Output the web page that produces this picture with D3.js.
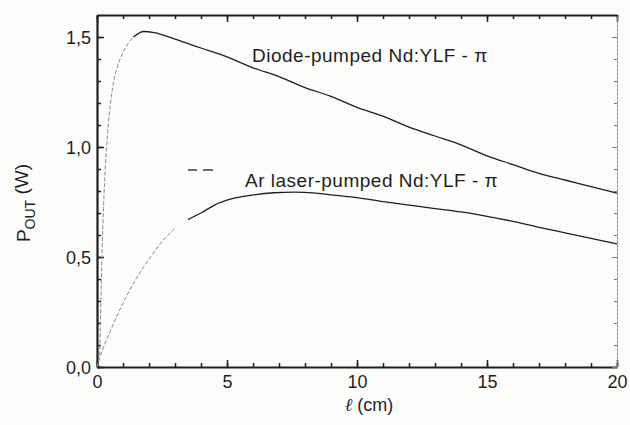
<!DOCTYPE html>
<html>
<head>
<meta charset="utf-8">
<script src="https://cdn.jsdelivr.net/npm/d3@7"></script>
<style>
  html, body { margin: 0; padding: 0; background: #fcfcfa; }
  svg { display: block; font-family: "Liberation Sans", Arial, sans-serif; }
</style>
</head>
<body>
<svg id="chart" width="630" height="425"></svg>
<script>
// Diode-pumped Nd:YLF - pi : output power vs crystal length
const diodeL = [0, 0.1, 0.15, 0.2, 0.25, 0.3, 0.42, 0.6, 0.8, 1.0, 1.4, 1.8, 2.2, 3, 4, 5, 6, 7, 8, 9, 10, 11, 12, 13, 14, 15, 16, 17, 18, 19, 20];
const diodeP = [0, 0.06, 0.3, 0.55, 0.72, 0.86, 1.08, 1.27, 1.37, 1.43, 1.50, 1.525, 1.52, 1.49, 1.45, 1.41, 1.36, 1.32, 1.27, 1.23, 1.18, 1.14, 1.09, 1.05, 1.01, 0.96, 0.92, 0.88, 0.85, 0.82, 0.79];

// Ar laser-pumped Nd:YLF - pi
const arL = [0, 0.1, 0.5, 1.0, 1.5, 2.0, 2.5, 3.0, 3.5, 4.0, 4.5, 5.2, 6.0, 6.8, 7.6, 8.4, 9.2, 10, 11, 12, 13, 14, 15, 16, 17, 18, 19, 20];
const arP = [0, 0.04, 0.16, 0.29, 0.40, 0.49, 0.57, 0.63, 0.67, 0.70, 0.735, 0.765, 0.782, 0.792, 0.795, 0.79, 0.78, 0.77, 0.752, 0.736, 0.72, 0.705, 0.685, 0.662, 0.635, 0.61, 0.585, 0.56];

const xMajor = [0, 5, 10, 15, 20];
const yMajor = [0, 0.5, 1.0, 1.5];

// the steep start of each curve is printed faint in the scan
const diodeSolidFrom = 1.4;
const arSolidFrom = 3.3;

const svg = d3.select('#chart');
const ink = '#1f1f1f';

const x = d3.scaleLinear().domain([0, 20]).range([97, 617]);
const y = d3.scaleLinear().domain([0, 1.6]).range([367, 15]);

const fmt = d => d3.format('.1f')(d).replace('.', ',');

// minor ticks
svg.append('g')
  .attr('transform', `translate(0,${y(0)})`)
  .call(d3.axisBottom(x).tickValues(d3.range(0, 21, 1)).tickSize(-4).tickFormat(''))
  .call(g => g.select('.domain').remove());
svg.append('g')
  .attr('transform', `translate(0,${y(1.6)})`)
  .call(d3.axisTop(x).tickValues(d3.range(0, 21, 1)).tickSize(-4).tickFormat(''))
  .call(g => g.select('.domain').remove());
svg.append('g')
  .attr('transform', `translate(${x(0)},0)`)
  .call(d3.axisLeft(y).tickValues(d3.range(0, 16).map(i => i / 10)).tickSize(-4).tickFormat(''))
  .call(g => g.select('.domain').remove());
svg.append('g')
  .attr('transform', `translate(${x(20)},0)`)
  .call(d3.axisRight(y).tickValues(d3.range(0, 16).map(i => i / 10)).tickSize(-3).tickFormat(''))
  .call(g => g.select('.domain').remove())
  .selectAll('line').attr('stroke', '#777');

// major axes
const xAxis = svg.append('g')
  .attr('transform', `translate(0,${y(0)})`)
  .call(d3.axisBottom(x).tickValues(xMajor).tickSize(-7).tickSizeOuter(0).tickPadding(8).tickFormat(d => d));
const yAxis = svg.append('g')
  .attr('transform', `translate(${x(0)},0)`)
  .call(d3.axisLeft(y).tickValues(yMajor).tickSize(-7).tickSizeOuter(0).tickPadding(6).tickFormat(fmt));
svg.append('g')
  .attr('transform', `translate(0,${y(1.6)})`)
  .call(d3.axisTop(x).tickValues(xMajor).tickSize(-7).tickSizeOuter(0).tickFormat(''));
svg.append('g')
  .attr('transform', `translate(${x(20)},0)`)
  .call(d3.axisRight(y).tickValues(yMajor).tickSize(-5).tickSizeOuter(0).tickFormat(''))
  .call(g => g.select('.domain').attr('stroke', '#888').attr('stroke-width', 1).attr('stroke-dasharray', '3,1'))
  .selectAll('line').attr('stroke', '#777');

svg.selectAll('.tick line').filter(function () { return !this.getAttribute('stroke') || this.getAttribute('stroke') === 'currentColor'; })
  .attr('stroke', ink).attr('stroke-width', 1.5);
svg.selectAll('.domain').filter(function () { return !this.getAttribute('stroke-dasharray'); })
  .attr('stroke', ink).attr('stroke-width', 2.2);
svg.selectAll('.tick text')
  .attr('fill', ink)
  .style('font-size', '18px');
xAxis.selectAll('.tick text').attr('dy', '0.71em');
yAxis.selectAll('.tick text').attr('dy', '0.36em');

// curves
const line = d3.line().x(d => x(d[0])).y(d => y(d[1])).curve(d3.curveMonotoneX);

function drawSeries(L, P, solidFrom) {
  const pts = L.map((l, i) => [l, P[i]]);
  const faint = pts.filter(d => d[0] <= solidFrom);
  const solid = pts.filter(d => d[0] >= solidFrom);
  svg.append('path')
    .attr('d', line(faint))
    .attr('fill', 'none')
    .attr('stroke', '#8a8a8a')
    .attr('stroke-width', 1)
    .attr('stroke-dasharray', '4,2');
  svg.append('path')
    .attr('d', line(solid))
    .attr('fill', 'none')
    .attr('stroke', ink)
    .attr('stroke-width', 1.3);
}
drawSeries(diodeL, diodeP, diodeSolidFrom);
drawSeries(arL, arP, arSolidFrom);

// labels
svg.append('text')
  .attr('x', 252).attr('y', 62)
  .attr('fill', ink).style('font-size', '19px').style('letter-spacing', '0.5px')
  .text('Diode-pumped Nd:YLF - π');

svg.append('text')
  .attr('x', 245).attr('y', 187)
  .attr('fill', ink).style('font-size', '19px').style('letter-spacing', '0.5px')
  .text('Ar laser-pumped Nd:YLF - π');

svg.append('line')
  .attr('x1', 188).attr('x2', 197).attr('y1', 170).attr('y2', 170)
  .attr('stroke', ink).attr('stroke-width', 1.3);
svg.append('line')
  .attr('x1', 203).attr('x2', 213).attr('y1', 170).attr('y2', 170)
  .attr('stroke', ink).attr('stroke-width', 1.3);

// axis titles
const yTitle = svg.append('text')
  .attr('transform', 'translate(30,203) rotate(-90)')
  .attr('text-anchor', 'middle')
  .attr('fill', ink).style('font-size', '19px');
yTitle.append('tspan').text('P');
yTitle.append('tspan').attr('dy', '0.35em').style('font-size', '14px').text('OUT');
yTitle.append('tspan').attr('dy', '-0.35em').text(' (W)');

const xTitle = svg.append('text')
  .attr('x', 369).attr('y', 411)
  .attr('text-anchor', 'middle')
  .attr('fill', ink).style('font-size', '18px');
xTitle.append('tspan').style('font-style', 'italic').style('font-family', '"DejaVu Serif", serif').text('ℓ');
xTitle.append('tspan').text('  (cm)');
</script>
</body>
</html>
